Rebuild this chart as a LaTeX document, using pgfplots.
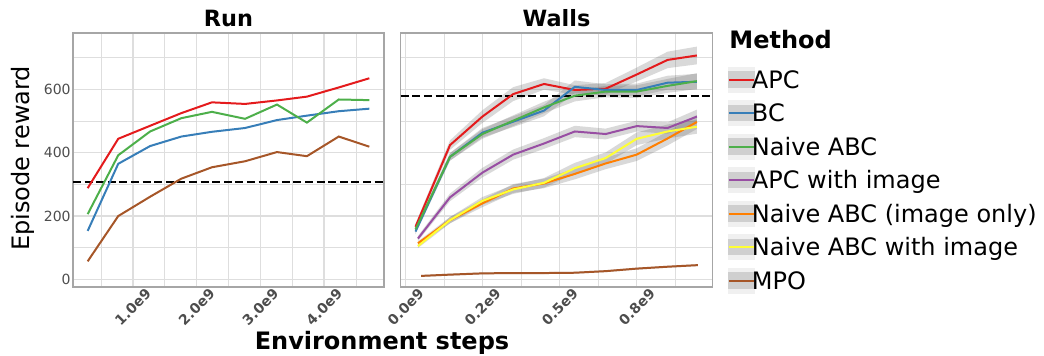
\documentclass[border=0pt]{standalone}
\usepackage{fontspec}
\setmainfont{DejaVu Sans}
\usepackage{pgfplots}
\pgfplotsset{compat=1.18}
\usepackage{pgfplotstable}
\usepgfplotslibrary{fillbetween}

% Set1 palette
\definecolor{cRed}{HTML}{E41A1C}
\definecolor{cBlue}{HTML}{377EB8}
\definecolor{cGreen}{HTML}{4DAF4A}
\definecolor{cPurple}{HTML}{984EA3}
\definecolor{cOrange}{HTML}{FF7F00}
\definecolor{cYellow}{HTML}{FFFF33}
\definecolor{cBrown}{HTML}{A65628}
\definecolor{tickgray}{HTML}{4D4D4D}
\definecolor{gridgray}{HTML}{DEDEDE}
\definecolor{framegray}{HTML}{A6A6A6}

\newcommand\ticksize{\fontsize{7}{8}\selectfont}
\newcommand\labsize{\fontsize{12}{14}\selectfont}
\newcommand\titsize{\fontsize{11.2}{13}\selectfont}

% ---------- Run (x in units of 1e9 steps) ----------
\pgfplotstableread{
x    y
0.29 288
0.77 444
1.27 485
1.76 525
2.24 559
2.76 554
3.26 565
3.73 577
4.23 606
4.71 635
}\runAPC
\pgfplotstableread{
x    y
0.29 153
0.77 365
1.27 421
1.76 451
2.24 466
2.76 478
3.26 503
3.73 517
4.23 531
4.71 539
}\runBC
\pgfplotstableread{
x    y
0.29 206
0.77 392
1.27 467
1.76 509
2.24 529
2.76 507
3.26 552
3.73 495
4.23 568
4.71 566
}\runNABC
\pgfplotstableread{
x    y
0.29 57
0.77 200
1.27 261
1.76 318
2.24 354
2.76 373
3.26 402
3.73 389
4.23 451
4.71 419
}\runMPO

% ---------- Walls (mean y, half-width e of the band) ----------
\pgfplotstableread{
x     y   e
0.032 166 10
0.144 424 15
0.249 514 20
0.349 585 22
0.449 617 18
0.549 598 15
0.649 602 18
0.750 647 22
0.850 693 26
0.945 707 28
}\wallAPC
\pgfplotstableread{
x     y   e
0.032 151 8
0.144 387 12
0.249 463 15
0.349 498 17
0.449 533 18
0.549 608 20
0.649 598 18
0.750 598 20
0.850 621 22
0.945 624 25
}\wallBC
\pgfplotstableread{
x     y   e
0.032 158 8
0.144 387 12
0.249 459 15
0.349 501 17
0.449 543 18
0.549 580 18
0.649 593 18
0.750 593 20
0.850 611 22
0.945 626 25
}\wallNABC
\pgfplotstableread{
x     y   e
0.040 129 8
0.144 259 12
0.249 337 15
0.349 394 16
0.449 429 17
0.549 467 18
0.649 459 17
0.750 484 17
0.850 478 18
0.945 514 22
}\wallAPCimg
\pgfplotstableread{
x     y   e
0.040 114 6
0.144 187 10
0.249 240 12
0.349 287 14
0.449 303 15
0.549 333 17
0.649 366 18
0.750 394 20
0.850 445 22
0.945 497 22
}\wallNABCimgonly
\pgfplotstableread{
x     y   e
0.040 105 6
0.144 187 10
0.249 248 12
0.349 284 14
0.449 305 15
0.549 351 17
0.649 383 18
0.750 444 20
0.850 467 22
0.945 482 22
}\wallNABCimg
\pgfplotstableread{
x     y  e
0.050 11 3
0.144 15 3
0.249 19 3
0.349 20 3
0.449 20 3
0.549 21 3
0.649 26 3
0.750 34 3
0.850 40 3
0.948 45 3
}\wallMPO

% grey ribbon of +-e around a series
\newcommand\band[2]{%
  \addplot[draw=none, forget plot, name path=up#2] table[x=x, y expr=\thisrow{y}+\thisrow{e}] {#1};
  \addplot[draw=none, forget plot, name path=dn#2] table[x=x, y expr=\thisrow{y}-\thisrow{e}] {#1};
  \addplot[draw=none, fill=black!60, fill opacity=0.25, forget plot] fill between[of=up#2 and dn#2];
}

\pgfplotsset{
  every axis title/.style={at={(0.5,1)}, anchor=base, yshift=3pt, inner sep=0pt,
    font=\titsize\bfseries},
  panel/.style={
    scale only axis, height=127pt,
    ymin=-24, ymax=778,
    ytick={0,200,400,600}, minor ytick={100,300,500,700},
    grid=both,
    major grid style={gridgray, line width=0.6pt},
    minor grid style={gridgray, line width=0.4pt},
    axis line style={framegray, line width=0.6pt},
    major tick length=0pt, minor tick length=0pt,
    /pgf/number format/assume math mode=true,
    tick label style={font=\ticksize, text=tickgray},
    yticklabel style={inner sep=1pt},
    xticklabel style={font=\ticksize\bfseries, rotate=45, anchor=center},
    xticklabel shift=10pt,
    every axis plot/.append style={line width=1pt},
  },
  refline/.style={black, line width=1pt, dash pattern=on 4pt off 1.8pt},
}

\begin{document}
\begin{tikzpicture}

\begin{axis}[panel, at={(36.5pt,34.5pt)}, anchor=south west, width=155.5pt,
  title={Run},
  xmin=0.06, xmax=4.94,
  xtick={1,2,3,4}, xticklabels={1.0e9,2.0e9,3.0e9,4.0e9},
  minor xtick={0.5,1.5,2.5,3.5,4.5}]
  \addplot[refline] coordinates {(0.06,308) (4.94,308)};
  \addplot[cRed]   table[x=x,y=y] {\runAPC};
  \addplot[cBlue]  table[x=x,y=y] {\runBC};
  \addplot[cGreen] table[x=x,y=y] {\runNABC};
  \addplot[cBrown] table[x=x,y=y] {\runMPO};
\end{axis}

\begin{axis}[panel, at={(200.35pt,34.5pt)}, anchor=south west, width=155.8pt,
  title={Walls},
  xmin=-0.016, xmax=0.995,
  xtick={0,0.25,0.5,0.75}, xticklabels={0.0e9,0.2e9,0.5e9,0.8e9},
  minor xtick={0.125,0.375,0.625,0.875},
  yticklabel=\empty,
  legend style={at={(1.0504,0.8673)}, anchor=north west, draw=none, fill=none,
    inner sep=0pt, outer sep=0pt, row sep=3.75pt, column sep=-1.5pt,
    font=\labsize, cells={anchor=west},
    nodes={inner sep=0pt, text height=8.75pt, text depth=0pt}},
  legend cell align=left,
  legend image code/.code={
    \fill[black!6] (0pt,-6pt) rectangle (12.5pt,6pt);
    \fill[black!19] (0pt,-3.6pt) rectangle (12.5pt,3.6pt);
    \draw[line width=1pt] (0pt,0pt) -- (12.5pt,0pt);
  }]
  \band{\wallAPC}{a}
  \band{\wallBC}{b}
  \band{\wallNABC}{c}
  \band{\wallAPCimg}{d}
  \band{\wallNABCimgonly}{e}
  \band{\wallNABCimg}{f}
  \band{\wallMPO}{g}
  \addplot[refline, forget plot] coordinates {(-0.016,578) (0.995,578)};
  \addplot[cRed]    table[x=x,y=y] {\wallAPC};        \addlegendentry{APC}
  \addplot[cBlue]   table[x=x,y=y] {\wallBC};         \addlegendentry{BC}
  \addplot[cGreen]  table[x=x,y=y] {\wallNABC};       \addlegendentry{Naive ABC}
  \addplot[cPurple] table[x=x,y=y] {\wallAPCimg};     \addlegendentry{APC with image}
  \addplot[cOrange] table[x=x,y=y] {\wallNABCimgonly};\addlegendentry{Naive ABC (image only)}
  \addplot[cYellow] table[x=x,y=y] {\wallNABCimg};    \addlegendentry{Naive ABC with image}
  \addplot[cBrown]  table[x=x,y=y] {\wallMPO};        \addlegendentry{MPO}
\end{axis}

\node[anchor=base west, inner sep=0pt, font=\labsize\bfseries] at (364.5pt,153.8pt) {Method};
\node[rotate=90, anchor=base, inner sep=0pt, font=\labsize] at (14.75pt,98.75pt) {Episode reward};
\node[anchor=base, inner sep=0pt, font=\labsize\bfseries] at (191pt,3pt) {Environment steps};

\pgfresetboundingbox
\useasboundingbox (0,0) rectangle (522pt,178pt);
\end{tikzpicture}
\end{document}
